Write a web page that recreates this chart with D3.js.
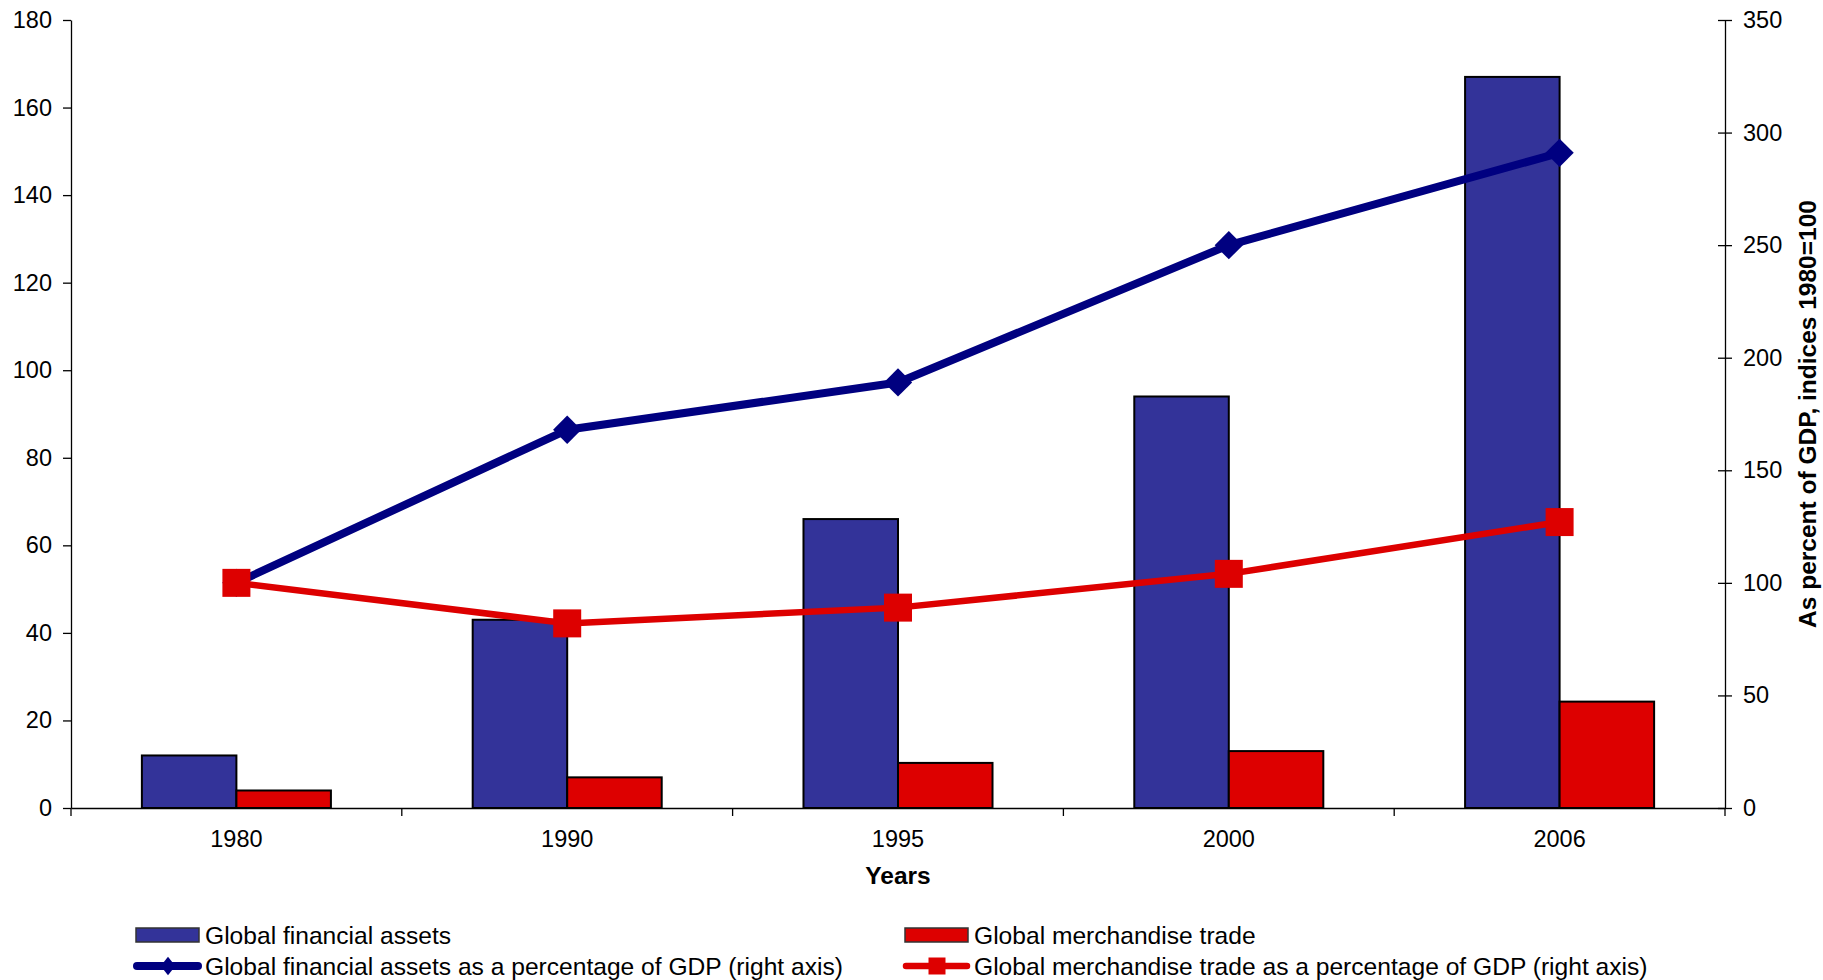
<!DOCTYPE html>
<html>
<head>
<meta charset="utf-8">
<script src="https://cdn.jsdelivr.net/npm/d3@7"></script>
<style>
  html, body { margin: 0; padding: 0; background: #ffffff; }
  svg { display: block; font-family: "Liberation Sans", Arial, sans-serif; }
</style>
</head>
<body>
<svg id="chart" width="1823" height="980"></svg>
<script>
// Categories and series values
const years = ["1980", "1990", "1995", "2000", "2006"];
const financialAssets = [12, 43, 66, 94, 167];
const merchandiseTrade = [4, 7, 10.3, 13, 24.3];
const financialAssetsPctGdp = [100, 168, 189, 250, 291];
const merchandiseTradePctGdp = [100, 82, 89, 104, 127];

// Axis tick labels
const leftTicks = [0, 20, 40, 60, 80, 100, 120, 140, 160, 180];
const rightTicks = [0, 50, 100, 150, 200, 250, 300, 350];

const barSeries = ["assets", "trade"];
const barNames = ["Global financial assets", "Global merchandise trade"];
const lineNames = [
  "Global financial assets as a percentage of GDP (right axis)",
  "Global merchandise trade as a percentage of GDP (right axis)"
];

const blueBar = "#333399", redBar = "#DD0000";
const blueLine = "#000080", redLine = "#DD0000";
const fontSize = 23.5;
const legendFontSize = 24.6;

const svg = d3.select("#chart");
const plot = { left: 71, right: 1725, top: 20, bottom: 808 };

const x0 = d3.scaleBand().domain(years).range([plot.left, plot.right]).padding(0);
const x1 = d3.scaleBand().domain(barSeries).range([0, x0.bandwidth()])
  .paddingInner(0).paddingOuter(0.75);
const yL = d3.scaleLinear().domain([0, 180]).range([plot.bottom, plot.top]);
const yR = d3.scaleLinear().domain([0, 350]).range([plot.bottom, plot.top]);

// Bars
const barData = years.map((yr, i) => ({
  year: yr,
  values: [
    { key: "assets", v: financialAssets[i], fill: blueBar },
    { key: "trade", v: merchandiseTrade[i], fill: redBar }
  ]
}));

const groups = svg.append("g").selectAll("g").data(barData).join("g")
  .attr("transform", d => `translate(${x0(d.year)},0)`);
groups.selectAll("rect").data(d => d.values).join("rect")
  .attr("x", d => x1(d.key))
  .attr("y", d => yL(d.v))
  .attr("width", x1.bandwidth())
  .attr("height", d => yL(0) - yL(d.v))
  .attr("fill", d => d.fill)
  .attr("stroke", "#000")
  .attr("stroke-width", 2);

// Left axis
const axL = svg.append("g").attr("transform", `translate(${plot.left},0)`)
  .call(d3.axisLeft(yL).tickValues(leftTicks).tickSize(8).tickSizeOuter(0).tickPadding(11));

// Right axis with ticks crossing the line
const axR = svg.append("g").attr("transform", `translate(${plot.right},0)`)
  .call(d3.axisRight(yR).tickValues(rightTicks).tickSize(7).tickSizeOuter(0).tickPadding(11));
axR.selectAll(".tick").append("line").attr("x1", -7).attr("x2", 0).attr("stroke", "#000");

// Bottom axis: labels at category centres, ticks at category boundaries
const axB = svg.append("g").attr("transform", `translate(0,${plot.bottom})`)
  .call(d3.axisBottom(x0).tickSize(0).tickSizeOuter(0).tickPadding(22.6));
const bounds = years.map(y => x0(y)).concat([x0.range()[1]]);
axB.selectAll("line.bound").data(bounds).join("line")
  .attr("class", "bound")
  .attr("x1", d => d).attr("x2", d => d)
  .attr("y1", 0).attr("y2", 8)
  .attr("stroke", "#000");

[axL, axR, axB].forEach(a => {
  a.select(".domain").attr("stroke", "#000").attr("stroke-width", 1.3);
  a.selectAll(".tick line").attr("stroke", "#000").attr("stroke-width", 1.3);
  a.selectAll("text").attr("font-size", fontSize).attr("fill", "#000")
    .attr("font-family", "'Liberation Sans', Arial, sans-serif");
});
axB.selectAll("line.bound").attr("stroke-width", 1.3);

// Lines on right axis
const cx = yr => x0(yr) + x0.bandwidth() / 2;
const lineGen = d3.line().x(d => cx(d.year)).y(d => yR(d.v));

const blueData = years.map((yr, i) => ({ year: yr, v: financialAssetsPctGdp[i] }));
const redData = years.map((yr, i) => ({ year: yr, v: merchandiseTradePctGdp[i] }));

svg.append("path").datum(blueData).attr("d", lineGen)
  .attr("fill", "none").attr("stroke", blueLine).attr("stroke-width", 8)
  .attr("stroke-linejoin", "round");
svg.append("g").selectAll("path").data(blueData).join("path")
  .attr("transform", d => `translate(${cx(d.year)},${yR(d.v)}) rotate(45)`)
  .attr("d", d3.symbol(d3.symbolSquare, 20 * 20))
  .attr("fill", blueLine);

svg.append("path").datum(redData).attr("d", lineGen)
  .attr("fill", "none").attr("stroke", redLine).attr("stroke-width", 6.5)
  .attr("stroke-linejoin", "round");
svg.append("g").selectAll("path").data(redData).join("path")
  .attr("transform", d => `translate(${cx(d.year)},${yR(d.v)})`)
  .attr("d", d3.symbol(d3.symbolSquare, 28 * 28))
  .attr("fill", redLine);

// Axis titles
svg.append("text")
  .attr("x", (plot.left + plot.right) / 2).attr("y", 884)
  .attr("text-anchor", "middle").attr("font-weight", "bold")
  .attr("font-size", 24.5).text("Years");

svg.append("text")
  .attr("transform", `translate(1816,${(plot.top + plot.bottom) / 2}) rotate(-90)`)
  .attr("text-anchor", "middle").attr("font-weight", "bold")
  .attr("font-size", 24.5).text("As percent of GDP, indices 1980=100");

// Legend
const legend = svg.append("g");
const colX = [136, 905];
const rowY = [935, 966];

barNames.forEach((name, i) => {
  legend.append("rect")
    .attr("x", colX[i]).attr("y", rowY[0] - 7).attr("width", 63).attr("height", 14)
    .attr("fill", i === 0 ? blueBar : redBar).attr("stroke", "#333").attr("stroke-width", 1.5);
  legend.append("text")
    .attr("x", colX[i] + 69).attr("y", rowY[0] + 8.6)
    .attr("font-size", legendFontSize).text(name);
});

lineNames.forEach((name, i) => {
  const col = i === 0 ? blueLine : redLine;
  legend.append("line")
    .attr("x1", colX[i] + 1).attr("x2", colX[i] + 62)
    .attr("y1", rowY[1]).attr("y2", rowY[1])
    .attr("stroke", col).attr("stroke-width", i === 0 ? 8 : 6.5)
    .attr("stroke-linecap", "round");
  if (i === 0) {
    legend.append("path")
      .attr("transform", `translate(${colX[i] + 32},${rowY[1]}) scale(0.8,1) rotate(45)`)
      .attr("d", d3.symbol(d3.symbolSquare, 13 * 13)).attr("fill", col);
  } else {
    legend.append("path")
      .attr("transform", `translate(${colX[i] + 32},${rowY[1]})`)
      .attr("d", d3.symbol(d3.symbolSquare, 17 * 17)).attr("fill", col);
  }
  legend.append("text")
    .attr("x", colX[i] + 69).attr("y", rowY[1] + 8.6)
    .attr("font-size", legendFontSize).text(name);
});
</script>
</body>
</html>
